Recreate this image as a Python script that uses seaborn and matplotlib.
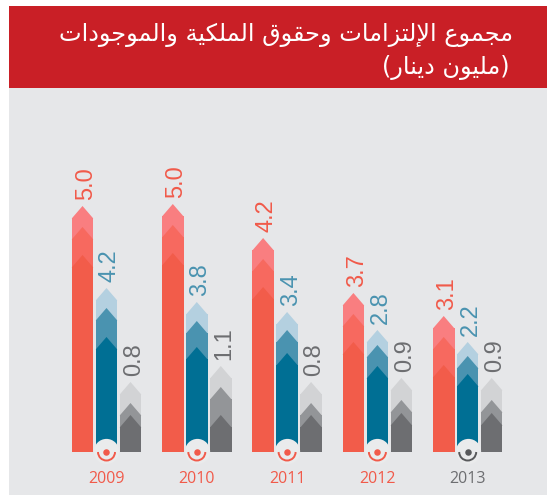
import pandas as pd
import matplotlib
matplotlib.use("Agg")
import matplotlib.pyplot as plt
from matplotlib.patches import Arc, Rectangle
import seaborn as sns

# Chart values
years = ["2009", "2010", "2011", "2012", "2013"]
red_values = [5.0, 5.0, 4.2, 3.7, 3.1]
blue_values = [4.2, 3.8, 3.4, 2.8, 2.2]
gray_values = [0.8, 1.1, 0.8, 0.9, 0.9]

# Drawn height of each chevron tip (pictogram is not to scale)
red_light = [246, 248, 214, 159, 136]
red_mid = [225, 227, 193, 138, 115]
red_dark = [197, 199, 165, 110, 87]
blue_light = [164, 150, 140, 122, 110]
blue_mid = [144, 131, 122, 107, 96]
blue_dark = [115, 105, 99, 86, 78]
gray_light = [70, 86, 70, 74, 74]
gray_mid = [49, 65, 49, 52, 52]
gray_dark = [37, 37, 37, 39, 39]

title_line1 = "مجموع الإلتزامات وحقوق الملكية والموجودات"
title_line2 = "مليون دينار"

RED, BLUE, GRAY = "#F15A4A", "#4A93B0", "#6D6E71"
palettes = {
    "light": {"red": "#F97E80", "blue": "#B4D0E0", "gray": "#D2D3D5"},
    "mid": {"red": "#F7695F", "blue": "#4A93B0", "gray": "#939598"},
    "dark": {"red": "#F25C4A", "blue": "#006F94", "gray": "#6D6E71"},
}

# matplotlib does not shape Arabic, so map letters to presentation forms
FORMS = {
    "م": "ﻡﻢﻣﻤ", "ج": "ﺝﺞﺟﺠ", "ع": "ﻉﻊﻋﻌ", "ل": "ﻝﻞﻟﻠ", "ت": "ﺕﺖﺗﺘ", "ح": "ﺡﺢﺣﺤ",
    "ق": "ﻕﻖﻗﻘ", "ك": "ﻙﻚﻛﻜ", "ي": "ﻱﻲﻳﻴ", "ن": "ﻥﻦﻧﻨ",
    "و": "ﻭﻮ", "ا": "ﺍﺎ", "إ": "ﺇﺈ", "ز": "ﺯﺰ", "ة": "ﺓﺔ", "د": "ﺩﺪ", "ر": "ﺭﺮ",
}


def shape(text):
    text = text.replace("لإ", "\ufef9")
    out = []
    for i, ch in enumerate(text):
        if ch == "\ufef9":
            prev = text[i - 1] if i else " "
            out.append("\ufefa" if len(FORMS.get(prev, "")) == 4 else ch)
            continue
        if ch not in FORMS:
            out.append(ch)
            continue
        prev = text[i - 1] if i else " "
        nxt = text[i + 1] if i + 1 < len(text) else " "
        joins_prev = len(FORMS.get(prev, "")) == 4
        joins_next = len(FORMS[ch]) == 4 and (nxt in FORMS or nxt == "\ufef9")
        forms = FORMS[ch]
        if joins_prev and joins_next:
            out.append(forms[3])
        elif joins_next:
            out.append(forms[2])
        elif joins_prev:
            out.append(forms[1])
        else:
            out.append(forms[0])
    return "".join(out)[::-1]


rows = []
series = {
    "red": (red_light, red_mid, red_dark),
    "blue": (blue_light, blue_mid, blue_dark),
    "gray": (gray_light, gray_mid, gray_dark),
}
for name, layers in series.items():
    for layer, heights in zip(["light", "mid", "dark"], layers):
        for year, h in zip(years, heights):
            rows.append({"year": year, "series": name, "layer": layer, "tip": h})
df = pd.DataFrame(rows)

W, H = 547, 495
TIP = 12
BASE_Y = 452
TOP_Y = 88
PITCH = 90.3
FIRST_X = 106.5

sns.set_theme(style="white")
plt.rcParams["font.family"] = ["Open Sans", "DejaVu Sans"]

fig = plt.figure(figsize=(W / 100, H / 100), dpi=100, facecolor="white")
fig.add_artist(Rectangle((9 / W, 0), 1, 1 - TOP_Y / H, transform=fig.transFigure,
                         facecolor="#E6E7E9", edgecolor="none", zorder=-2))
fig.add_artist(Rectangle((9 / W, 1 - TOP_Y / H), 1, (TOP_Y - 6) / H, transform=fig.transFigure,
                         facecolor="#C91F26", edgecolor="none", zorder=-2))

ax = fig.add_axes([9 / W, 1 - BASE_Y / H, 1 - 9 / W, (BASE_Y - TOP_Y) / H])
ax.patch.set_alpha(0)

df["body"] = df["tip"] - TIP
for layer in ["light", "mid", "dark"]:
    before = len(ax.patches)
    sns.barplot(data=df[df["layer"] == layer], x="year", y="body", hue="series",
                hue_order=["red", "blue", "gray"], palette=palettes[layer], order=years,
                width=0.797, gap=0.1, saturation=1, legend=False, ax=ax, zorder=2,
                linewidth=0, edgecolor="none")
    for bar in list(ax.patches[before:]):
        x0, w, top = bar.get_x(), bar.get_width(), bar.get_height()
        if top <= 0:
            continue
        ax.fill([x0, x0 + w / 2, x0 + w], [top - 0.5, top + TIP, top - 0.5],
                color=bar.get_facecolor(), lw=0, zorder=2)

ax.set_xlim((9 - FIRST_X) / PITCH, (W - FIRST_X) / PITCH)
ax.set_ylim(0, BASE_Y - TOP_Y)
ax.set_xlabel("")
ax.set_ylabel("")
ax.set_yticks([])
ax.tick_params(axis="x", length=0, pad=14)
sns.despine(ax=ax, left=True, bottom=True, top=True, right=True)

icon_colors = [RED, RED, RED, RED, "#58595B"]
for tick, c in zip(ax.get_xticklabels(), [RED, RED, RED, RED, GRAY]):
    tick.set_color(c)
    tick.set_fontsize(11.5)
    tick.set_fontfamily("Open Sans")

# value labels above each bar
bar_w = 0.797 / 3
for i in range(len(years)):
    for offset, values, tips, c in [(-bar_w, red_values, red_light, RED),
                                    (0, blue_values, blue_light, BLUE),
                                    (bar_w, gray_values, gray_light, GRAY)]:
        ax.text(i + offset + 3.5 / PITCH, tips[i] + 6, f"{values[i]:.1f}", rotation=90,
                ha="center", va="bottom", color=c, fontsize=17,
                fontfamily="Liberation Sans", clip_on=False)

    # round badge under the blue bar
    ax.scatter([i], [1.5], s=330, color="#EAEBEC", lw=0, zorder=4, clip_on=False)
    ax.scatter([i], [0], s=22, color=icon_colors[i], lw=0, zorder=5, clip_on=False)
    ax.add_patch(Arc((i, 0), 17 / PITCH, 17, theta1=180, theta2=360, color=icon_colors[i],
                     lw=1.4, zorder=5, clip_on=False))

fig.text(513 / W, 1 - 35 / H, shape(title_line1), color="white", fontsize=17.3,
         ha="right", va="center", family="DejaVu Sans")
fig.text(510 / W, 1 - 67 / H, "(" + shape(title_line2) + ")", color="white", fontsize=17.3,
         ha="right", va="center", family="DejaVu Sans")

fig.savefig("out.png", dpi=100)
plt.close(fig)
